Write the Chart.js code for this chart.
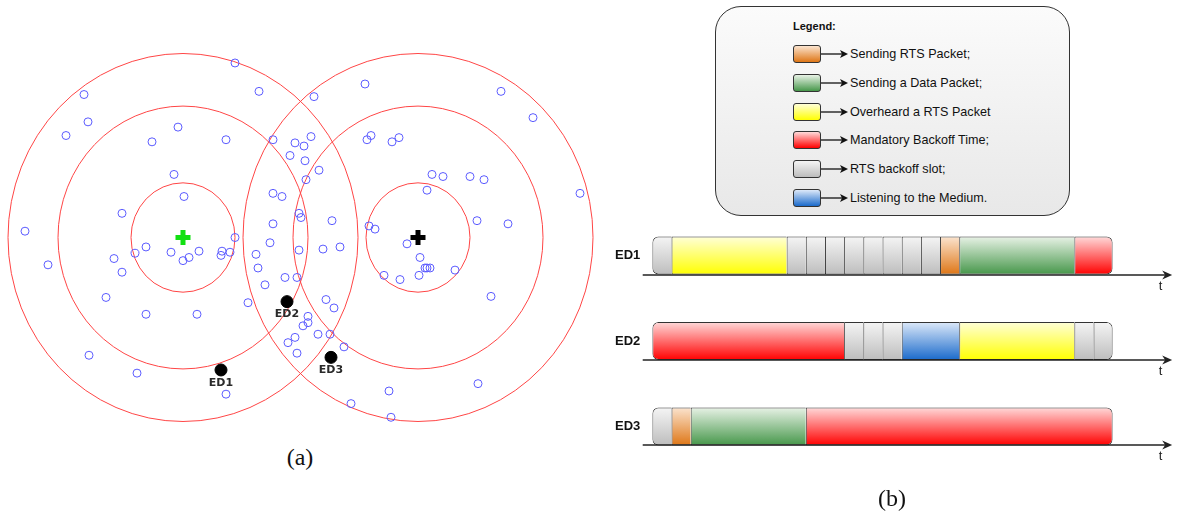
<!DOCTYPE html>
<html lang="en">
<head>
<meta charset="UTF-8">
<title>LoRa cells and RTS channel access timeline</title>
<script src="https://cdn.jsdelivr.net/npm/chart.js"></script>
<style>
  body {
    margin: 0;
    width: 1178px;
    height: 516px;
    position: relative;
    overflow: hidden;
    background: #fff;
    font-family: 'Liberation Sans', Arial, sans-serif;
    color: #111;
  }
  #mapBox { position: absolute; left: 0; top: 0; width: 600px; height: 440px; }
  /* the category axis keeps ~20px of label padding above and below the rows */
  #timeBox { position: absolute; left: 600px; top: 193px; width: 578px; height: 296px; }
  .caption {
    position: absolute;
    font-family: 'Liberation Serif', 'DejaVu Serif', serif;
    font-size: 24px;
    line-height: 24px;
    transform: translateX(-50%);
  }
  .legend-box {
    position: absolute;
    left: 715px;
    top: 6px;
    width: 353px;
    height: 208px;
    border: 1px solid #333;
    border-radius: 26px;
    background: linear-gradient(#fbfbfb, #e8e8e8);
  }
  .legend-title {
    position: absolute;
    left: 77px;
    top: 13px;
    font-size: 11px;
    font-weight: bold;
  }
  .legend-row {
    position: absolute;
    left: 77px;
    height: 18px;
    display: flex;
    align-items: center;
    font-size: 12.6px;
    white-space: nowrap;
  }
  .swatch {
    width: 28px;
    height: 18px;
    box-sizing: border-box;
    border: 1px solid #333;
    border-radius: 3px;
  }
  .legend-row svg { margin-right: 2px; }
</style>
</head>
<body>
  <div id="mapBox"><canvas id="mapChart"></canvas></div>
  <div class="caption" style="left:300px; top:445px;">(a)</div>

  <div class="legend-box" id="legendBox">
    <div class="legend-title">Legend:</div>
  </div>
  <div id="timeBox"><canvas id="timeChart"></canvas></div>
  <div class="caption" style="left:892px; top:486px;">(b)</div>

<script>
// ---- (a) node layout: two gateways, their range rings, end devices ----
const gatewayX = [0, 235];
const gatewayY = [0, 0];
const gatewayColors = ['#12e012', '#000000'];
const ringRadii = [52, 125, 175];

const nodeX = [52, 76, -99, -95, -117, -5, -31, 43, 90, 112, 107, -9, 1, -61, 90, 99, -158, 90, 87, 52,
  -37, -48, -12, 16, 6, 0, 39, 47, 38, 73, -69, 116, 118, 116, -135, -61, 75, 82, 102, 114,
  -77, 65, -37, 14, 105, 112, 114, -94, -46, 43, 182, 131, 318, 350, 128, 121, 188, 184, 209, 216,
  122, 136, 123, 249, 260, 287, 301, 244, 397, 149, 294, 325, 186, 192, 140, 157, 224, 237, 242, 244,
  247, 201, 217, 236, 272, 308, 143, 151, 125, 120, 125, 135, 147, 161, 206, 295, 168, 208];
const nodeY = [166, 139, 136, 110, 97, 105, 91, 93, 93, 90, 78, 60, 39, 23, 42, 39, 6, 13, -5, 0,
  -9, -15, -14, -13, -19, -22, -13, -14, -17, -16, -20, 23, 19, -12, -26, -33, -29, -45, -38, -38,
  -57, -62, -73, -73, -100, -95, -110, -112, -129, -149, 146, 134, 139, 114, 96, 87, 97, 93, 91, 95,
  73, 64, 55, 60, 58, 58, 55, 45, 42, 16, 16, 13, 11, 8, -11, -9, -6, -19, -29, -29,
  -29, -36, -40, -36, -31, -56, -59, -67, -75, -84, -81, -92, -92, -104, -146, -139, -158, -171];

const edNames = ['ED1', 'ED2', 'ED3'];
const edX = [38, 104, 148];
const edY = [-126, -61, -114];

// concentric range rings around each gateway, sized in data units
const rangeRings = {
  id: 'rangeRings',
  beforeDatasetsDraw(chart) {
    const { ctx, scales: { x, y } } = chart;
    ctx.save();
    ctx.strokeStyle = '#ff4545';
    ctx.lineWidth = 1;
    gatewayX.forEach((gx, g) => {
      const cx = x.getPixelForValue(gx);
      const cy = y.getPixelForValue(gatewayY[g]);
      ringRadii.forEach(r => {
        const rx = x.getPixelForValue(gx + r) - cx;
        const ry = cy - y.getPixelForValue(gatewayY[g] + r);
        ctx.beginPath();
        ctx.ellipse(cx, cy, rx, ry, 0, 0, Math.PI * 2);
        ctx.stroke();
      });
    });
    ctx.restore();
  }
};

// names under the end devices
const edLabels = {
  id: 'edLabels',
  afterDatasetsDraw(chart) {
    const { ctx } = chart;
    const meta = chart.getDatasetMeta(1);
    ctx.save();
    ctx.font = 'bold 11px "DejaVu Sans", sans-serif';
    ctx.fillStyle = '#2a2a2a';
    ctx.textAlign = 'center';
    ctx.textBaseline = 'middle';
    meta.data.forEach((pt, i) => ctx.fillText(edNames[i], pt.x, pt.y + 13));
    ctx.restore();
  }
};

new Chart(document.getElementById('mapChart'), {
  type: 'scatter',
  data: {
    datasets: [
      {
        label: 'Nodes',
        data: nodeX.map((x, i) => ({ x, y: nodeY[i] })),
        pointRadius: 4,
        pointBackgroundColor: 'rgba(0,0,0,0)',
        pointBorderColor: '#5c5cff',
        pointBorderWidth: 1
      },
      {
        label: 'End devices',
        data: edX.map((x, i) => ({ x, y: edY[i] })),
        pointRadius: 6,
        pointBackgroundColor: '#000',
        pointBorderColor: '#000',
        pointBorderWidth: 1
      },
      {
        label: 'Gateways',
        data: gatewayX.map((x, i) => ({ x, y: gatewayY[i] })),
        pointStyle: 'cross',
        pointRadius: 7.5,
        pointBorderWidth: 5,
        pointBorderColor: gatewayColors
      }
    ]
  },
  options: {
    responsive: true,
    maintainAspectRatio: false,
    animation: false,
    clip: false,
    layout: { padding: 0, autoPadding: false },
    scales: {
      x: { type: 'linear', min: -183, max: 417, display: false },
      y: { type: 'linear', min: -192.6, max: 225.9, display: false }
    },
    plugins: { legend: { display: false }, tooltip: { enabled: false } }
  },
  plugins: [rangeRings, edLabels]
});

// ---- (b) channel access timeline, one bar per end device, in slots ----
const nodes = ['ED1', 'ED2', 'ED3'];
const stateKeys = ['rts', 'data', 'overheard', 'mandatory', 'slot', 'listen'];
const stateLabels = ['Sending RTS Packet;', 'Sending a Data Packet;', 'Overheard a RTS Packet',
  'Mandatory Backoff Time;', 'RTS backoff slot;', 'Listening to the Medium.'];
const stateLight = ['#fbe4cf', '#e8f2e6', '#ffffd8', '#ffdada', '#f5f5f5', '#dde9f9'];
const stateDark = ['#de7616', '#46974a', '#ffff00', '#ff0000', '#bdbdbd', '#1a6acb'];

const ed1States = ['slot', 'overheard', 'slot', 'slot', 'slot', 'slot', 'slot', 'slot', 'slot', 'slot', 'rts', 'data', 'mandatory'];
const ed1Lengths = [1, 6, 1, 1, 1, 1, 1, 1, 1, 1, 1, 6, 2];
const ed2States = ['mandatory', 'slot', 'slot', 'slot', 'listen', 'overheard', 'slot', 'slot'];
const ed2Lengths = [10, 1, 1, 1, 3, 6, 1, 1];
const ed3States = ['slot', 'rts', 'data', 'mandatory'];
const ed3Lengths = [1, 1, 6, 16];

const sequences = [[ed1States, ed1Lengths], [ed2States, ed2Lengths], [ed3States, ed3Lengths]];
const barHeight = 38;

// one dataset per state, holding floating bars [start, end] for every device
const timelineSets = stateKeys.map((key, k) => ({
  label: stateLabels[k],
  data: [],
  backgroundColor: c => barGradient(c, k),
  borderColor: '#333',
  borderWidth: c => ({ top: 1, bottom: 1, left: 1, right: c.raw && c.raw.last ? 1 : 0 }),
  borderRadius: c => {
    const r = c.raw || {};
    return { topLeft: r.first ? 6 : 0, bottomLeft: r.first ? 6 : 0, topRight: r.last ? 6 : 0, bottomRight: r.last ? 6 : 0 };
  },
  borderSkipped: false,
  inflateAmount: 0,
  barThickness: barHeight,
  grouped: false
}));

sequences.forEach(([states, lengths], n) => {
  let t = 0;
  states.forEach((s, i) => {
    timelineSets[stateKeys.indexOf(s)].data.push({
      x: [t, t + lengths[i]],
      y: nodes[n],
      first: i === 0,
      last: i === states.length - 1
    });
    t += lengths[i];
  });
});

function barGradient(c, k) {
  const chart = c.chart;
  if (!chart.chartArea || !c.parsed) return stateDark[k];
  const mid = chart.scales.y.getPixelForValue(c.parsed.y);
  const g = chart.ctx.createLinearGradient(0, mid - barHeight / 2, 0, mid + barHeight / 2);
  g.addColorStop(0, stateLight[k]);
  g.addColorStop(1, stateDark[k]);
  return g;
}

// time axis with arrow under every bar
const timeAxes = {
  id: 'timeAxes',
  afterDatasetsDraw(chart) {
    const { ctx, scales: { x, y } } = chart;
    const x0 = x.getPixelForValue(-0.5);
    const x1 = x.getPixelForValue(27.1);
    ctx.save();
    ctx.strokeStyle = '#222';
    ctx.fillStyle = '#222';
    ctx.lineWidth = 1.3;
    ctx.font = '13px "Liberation Sans", Arial, sans-serif';
    ctx.textAlign = 'center';
    ctx.textBaseline = 'middle';
    nodes.forEach((n, i) => {
      const base = Math.round(y.getPixelForValue(i) + barHeight / 2);
      ctx.beginPath();
      ctx.moveTo(x0, base);
      ctx.lineTo(x1 - 6, base);
      ctx.stroke();
      ctx.beginPath();
      ctx.moveTo(x1, base);
      ctx.lineTo(x1 - 10, base - 4.5);
      ctx.lineTo(x1 - 7, base);
      ctx.lineTo(x1 - 10, base + 4.5);
      ctx.closePath();
      ctx.fill();
      ctx.fillText('t', x.getPixelForValue(26.5), base + 11);
    });
    ctx.restore();
  }
};

new Chart(document.getElementById('timeChart'), {
  type: 'bar',
  data: { labels: nodes, datasets: timelineSets },
  options: {
    indexAxis: 'y',
    responsive: true,
    maintainAspectRatio: false,
    animation: false,
    layout: { padding: { left: 0, right: 65.3, top: 0, bottom: 0 }, autoPadding: false },
    scales: {
      x: { type: 'linear', min: 0, max: 24, display: false },
      y: {
        type: 'category',
        offset: true,
        grid: { display: false, drawTicks: false },
        border: { display: false },
        ticks: {
          padding: 12,
          color: '#111',
          font: { family: "'Liberation Sans', Arial, sans-serif", size: 13, weight: 'bold' }
        },
        afterFit(scale) { scale.width = 52.3; }
      }
    },
    plugins: { legend: { display: false }, tooltip: { enabled: false } }
  },
  plugins: [timeAxes]
});

// legend panel built from the same state lists
const legendBox = document.getElementById('legendBox');
stateLabels.forEach((label, k) => {
  const row = document.createElement('div');
  row.className = 'legend-row';
  row.style.top = (38 + k * 28.8) + 'px';
  row.innerHTML =
    '<div class="swatch" style="background:linear-gradient(' + stateLight[k] + ',' + stateDark[k] + ')"></div>' +
    '<svg width="27" height="10"><line x1="0" y1="5" x2="21" y2="5" stroke="#111" stroke-width="1.3"/>' +
    '<polygon points="19,1 27,5 19,9 21,5" fill="#111"/></svg>' +
    '<span>' + label + '</span>';
  legendBox.appendChild(row);
});
</script>
</body>
</html>
